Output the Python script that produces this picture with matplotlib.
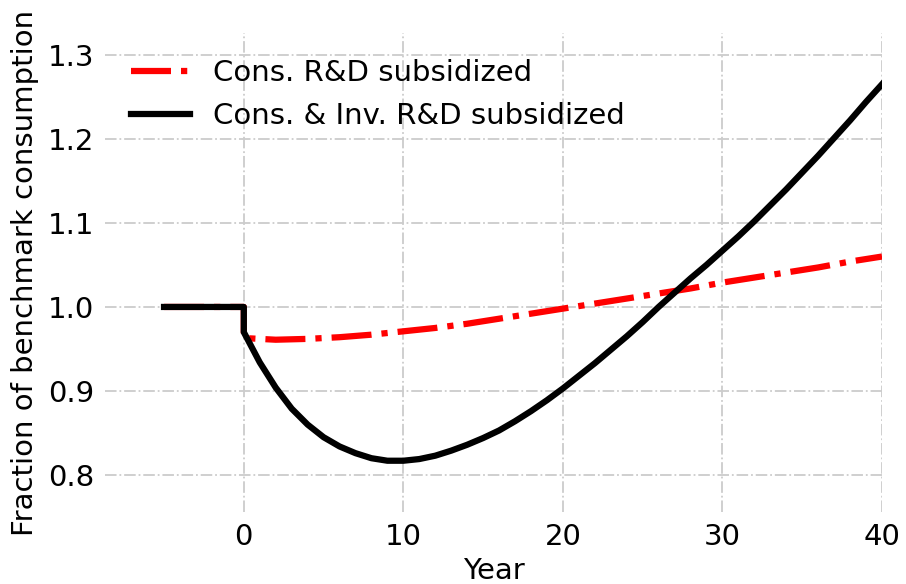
import matplotlib
matplotlib.use("Agg")
import matplotlib.pyplot as plt

# values
years_cons = [-5, 0, 0, 2, 4, 6, 8, 10, 12, 14, 16, 18, 20, 22, 24, 26, 28, 30, 32, 34, 36, 38, 40]
cons_subsidized = [1.0, 1.0, 0.963, 0.961, 0.962, 0.964, 0.967, 0.971, 0.975, 0.980, 0.986,
                   0.992, 0.998, 1.004, 1.010, 1.016, 1.022, 1.029, 1.035, 1.041, 1.047, 1.054, 1.060]

years_both = [-5, 0] + list(range(0, 41))
cons_inv_subsidized = [1.0, 1.0,
                       0.970, 0.934, 0.904, 0.879, 0.860, 0.845, 0.834, 0.826, 0.820, 0.817,
                       0.817, 0.819, 0.823, 0.829, 0.836, 0.844, 0.853, 0.864, 0.876, 0.889,
                       0.903, 0.918, 0.933, 0.949, 0.965, 0.982, 1.000, 1.017, 1.034, 1.050,
                       1.067, 1.084, 1.102, 1.121, 1.140, 1.160, 1.180, 1.201, 1.222, 1.244,
                       1.265]

xticks = [0, 10, 20, 30, 40]
yticks = [0.8, 0.9, 1.0, 1.1, 1.2, 1.3]

plt.rcParams['font.family'] = ['DejaVu Sans']
plt.rcParams['font.size'] = 21

fig = plt.figure(figsize=(9.06, 5.84), dpi=100)
ax = fig.add_axes([0.1159, 0.1233, 0.8576, 0.8202])

ax.plot(years_cons, cons_subsidized, color='red', lw=4.5, linestyle='-.',
        label='Cons. R&D subsidized')
ax.plot(years_both, cons_inv_subsidized, color='black', lw=4.5,
        label='Cons. & Inv. R&D subsidized')

ax.set_xlim(-8.7, 40)
ax.set_ylim(0.756, 1.326)
ax.set_xticks(xticks)
ax.set_yticks(yticks)
ax.grid(True, color='#cccccc', linestyle='-.', linewidth=1.3)
ax.tick_params(length=0, pad=8)
for s in ax.spines.values():
    s.set_visible(False)

ax.set_xlabel('Year', labelpad=4)
ax.set_ylabel('Fraction of benchmark consumption', labelpad=6)
ax.legend(loc='upper left', frameon=False)

plt.savefig('out.png', dpi=100)
